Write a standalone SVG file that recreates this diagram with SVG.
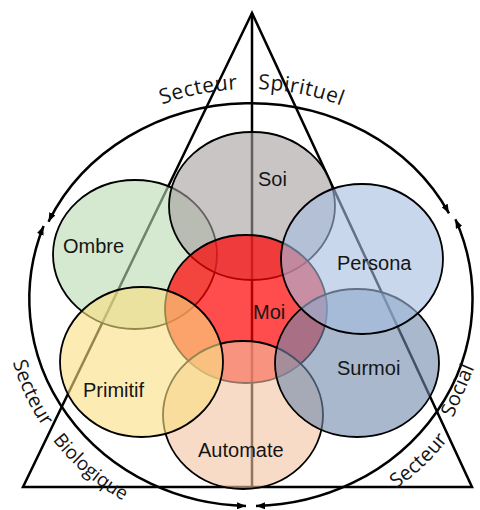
<svg xmlns="http://www.w3.org/2000/svg" width="480" height="510" viewBox="0 0 480 510">
<style>
.ln{fill:none;stroke:#000;stroke-width:2.5}
.c{stroke:#000;stroke-width:1.8}
.lbl{font-family:"Liberation Sans",Arial,sans-serif;font-size:20px;fill:#151515}
.sec{font-family:"Open Sans",sans-serif;font-size:21px;letter-spacing:0.5px;fill:#151515}
.sec2{font-family:"Open Sans",sans-serif;font-size:20px;letter-spacing:0.2px;fill:#151515}
.sec3{font-family:"Open Sans",sans-serif;font-size:19px;fill:#151515}
</style>
<defs>
<marker id="ah" viewBox="0 0 9 7" refX="9" refY="3.5" markerWidth="9" markerHeight="7" markerUnits="userSpaceOnUse" orient="auto-start-reverse">
<path d="M0,0 L9,3.5 L0,7 z" fill="#000"/>
</marker>
<path id="pTop1" d="M 162 104.5 A 236 215 0 0 1 330 101.7"/>
<path id="pTop2" d="M 258 89.1 A 236 215 0 0 1 420 154.8"/>
<path id="pL1" d="M 12.9 362 A 245 230 0 0 0 250 534"/>
<path id="pL2" d="M 52.5 440 A 245 230 0 0 0 292.5 530.5"/>
<path id="pR1" d="M 396 488.7 A 245 230 0 0 0 495 304"/>
</defs>
<rect width="480" height="510" fill="#fff"/>
<g id="connectors">
<polygon class="ln" points="252,13 23,487 472,487"/>
<line class="ln" x1="252" y1="13" x2="252" y2="487"/>
<path class="ln" d="M 48.5 221.7 A 222 201 0 0 1 449 213.3" marker-start="url(#ah)" marker-end="url(#ah)"/>
<path class="ln" d="M 43.6 226 A 222 207 0 0 0 246 506" marker-start="url(#ah)" marker-end="url(#ah)"/>
<path class="ln" d="M 455.4 219.3 A 222 207 0 0 1 256 506" marker-start="url(#ah)" marker-end="url(#ah)"/>
</g>
<g id="sectors">
<text class="sec"><textPath href="#pTop1">Secteur</textPath></text>
<text class="sec"><textPath href="#pTop2">Spirituel</textPath></text>
<text class="sec2"><textPath href="#pL1">Secteur</textPath></text>
<text class="sec3"><textPath href="#pL2">Biologique</textPath></text>
<text class="sec2"><textPath href="#pR1">Secteur</textPath></text>
<text class="sec2" transform="translate(453,418) rotate(-67)">Social</text>
</g>
<g id="ombre">
<ellipse class="c" cx="135" cy="254.5" rx="82" ry="74.5" fill="#b9d9b1" fill-opacity="0.6"/>
<text class="lbl" x="63" y="253">Ombre</text>
</g>
<g id="soi">
<ellipse class="c" cx="252" cy="206" rx="83" ry="74" fill="#a79e9e" fill-opacity="0.6" stroke="#555"/>
<text class="lbl" x="258" y="186">Soi</text>
</g>
<g id="moi">
<ellipse class="c" cx="246" cy="309" rx="81" ry="74" fill="#ff0000" fill-opacity="0.7"/>
<text class="lbl" x="253" y="319">Moi</text>
</g>
<g id="automate">
<ellipse class="c" cx="243" cy="415" rx="80" ry="74" fill="#f3c3a2" fill-opacity="0.6"/>
<text class="lbl" x="198" y="457">Automate</text>
</g>
<g id="primitif">
<ellipse class="c" cx="141.5" cy="362" rx="81.5" ry="75" fill="#fade81" fill-opacity="0.6"/>
<text class="lbl" x="83" y="397">Primitif</text>
</g>
<g id="surmoi">
<ellipse class="c" cx="357" cy="363" rx="82" ry="74" fill="#7088ab" fill-opacity="0.6"/>
<text class="lbl" x="337" y="375">Surmoi</text>
</g>
<g id="persona">
<ellipse class="c" cx="362" cy="259" rx="81" ry="75" fill="#a3bcdf" fill-opacity="0.6"/>
<text class="lbl" x="337" y="270">Persona</text>
</g>
</svg>
